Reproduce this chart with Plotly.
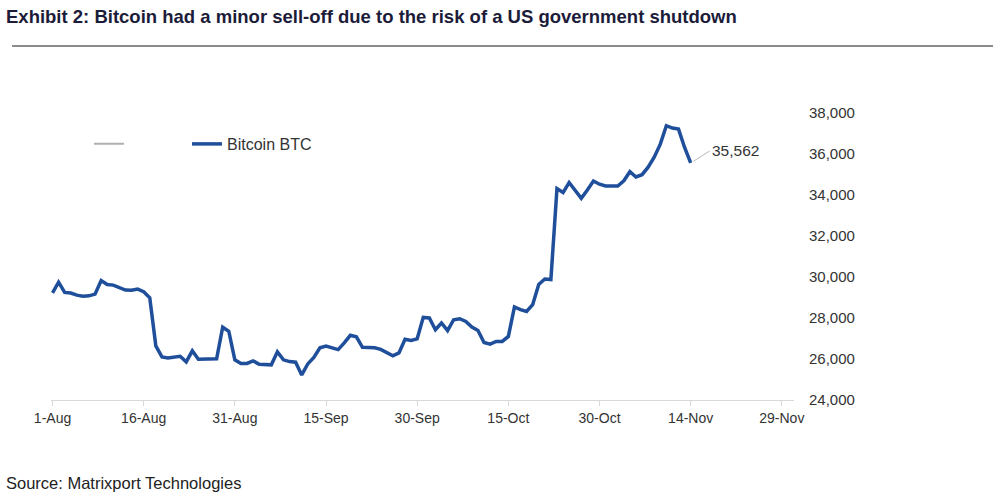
import pandas as pd
import plotly.graph_objects as go

# ---- data ----
start_date = "2023-08-01"
btc_aug = [29230, 29750, 29250, 29220, 29115, 29065, 29080, 29165, 29825, 29630,
           29605, 29460, 29360, 29350, 29410, 29285, 28990, 26640, 26100, 26055,
           26100, 26130, 25860, 26400, 25990, 25990, 26015, 26010, 27550, 27355, 25960]
btc_sep = [25785, 25785, 25910, 25740, 25715, 25715, 26350, 25960, 25875, 25845,
           25225, 25760, 26080, 26545, 26635, 26555, 26460, 26790, 27155, 27085,
           26570, 26560, 26545, 26470, 26310, 26155, 26300, 26960, 26900, 26985]
btc_oct = [28030, 28000, 27425, 27755, 27380, 27915, 27965, 27830, 27560, 27390,
           26805, 26725, 26855, 26855, 27100, 28540, 28405, 28320, 28650, 29630,
           29900, 29875, 34315, 34120, 34610, 34245, 33840, 34245, 34685, 34525, 34440]
btc_nov = [34440, 34440, 34695, 35135, 34880, 34990, 35355, 35845, 36480, 37380,
           37265, 37215, 36320, 35562]
btc = btc_aug + btc_sep + btc_oct + btc_nov
dates = pd.date_range(start_date, periods=len(btc), freq="D")

tick_dates = ["2023-08-01", "2023-08-16", "2023-08-31", "2023-09-15", "2023-09-30",
              "2023-10-15", "2023-10-30", "2023-11-14", "2023-11-29"]
tick_text = ["1-Aug", "16-Aug", "31-Aug", "15-Sep", "30-Sep", "15-Oct", "30-Oct", "14-Nov", "29-Nov"]
y_ticks = [24000, 26000, 28000, 30000, 32000, 34000, 36000, 38000]
last_label = "35,562"

title = "Exhibit 2: Bitcoin had a minor sell-off due to the risk of a US government shutdown"
source = "Source: Matrixport Technologies"

# ---- layout geometry (pixels) ----
W, H = 1000, 500
L, R, T, B = 51, 206, 113, 100
PW, PH = W - L - R, H - T - B


def px(x):
    return (x - L) / PW


def py(y):
    return (H - B - y) / PH


FONT = "Liberation Sans, Arial, Helvetica, sans-serif"
BLUE = "#1F4E9A"

fig = go.Figure()
fig.add_trace(go.Scatter(x=[dates[0]], y=[None], mode="lines", name=" ",
                         line=dict(color="#b0b0b0", width=2), legend="legend2",
                         hoverinfo="skip"))
fig.add_trace(go.Scatter(x=dates, y=btc, mode="lines", name="Bitcoin BTC",
                         line=dict(color=BLUE, width=3.5), legend="legend"))

fig.add_annotation(x=dates[-1], y=btc[-1], text=last_label, showarrow=True,
                   arrowhead=0, arrowwidth=1, arrowcolor="#b8b8b8", ax=19, ay=-12,
                   xanchor="left", yanchor="middle", standoff=3,
                   font=dict(family=FONT, size=15.5, color="#333333"))

fig.add_shape(type="line", xref="paper", yref="paper", x0=px(12), x1=px(993),
              y0=py(46), y1=py(46), line=dict(color="#8c8c8c", width=2))

fig.add_annotation(xref="paper", yref="paper", x=px(4), y=py(483), text=source,
                   showarrow=False, xanchor="left", yanchor="middle",
                   font=dict(family=FONT, size=16.5, color="#222222"))

fig.update_layout(
    width=W, height=H,
    margin=dict(l=L, r=R, t=T, b=B),
    paper_bgcolor="white", plot_bgcolor="white",
    title=dict(text="<b>" + title + "</b>", x=0.006, xanchor="left", xref="container",
               y=1 - 17 / H, yanchor="middle", yref="container",
               font=dict(family=FONT, size=18.5, color="#1c1c3a")),
    xaxis=dict(range=["2023-07-31 18:00", "2023-12-01"], tickvals=tick_dates,
               ticktext=tick_text, showgrid=False, zeroline=False,
               showline=True, linecolor="#d9d9d9", linewidth=1,
               ticks="outside", ticklen=5, tickcolor="#d9d9d9",
               tickfont=dict(family=FONT, size=14, color="#333333")),
    yaxis=dict(range=[24000, 38000], side="right", tickvals=y_ticks,
               tickformat=",d", showgrid=False, zeroline=False, showline=False,
               ticks="", ticklabelstandoff=14,
               tickfont=dict(family=FONT, size=15, color="#333333")),
    legend=dict(x=px(187), y=py(144), xanchor="left", yanchor="middle",
                bgcolor="rgba(0,0,0,0)", itemwidth=30,
                font=dict(family=FONT, size=16, color="#333333")),
    legend2=dict(x=px(89), y=py(144), xanchor="left", yanchor="middle",
                 bgcolor="rgba(0,0,0,0)", itemwidth=30,
                 font=dict(family=FONT, size=15, color="#333333")),
    showlegend=True,
)

fig.write_html("out.html")
